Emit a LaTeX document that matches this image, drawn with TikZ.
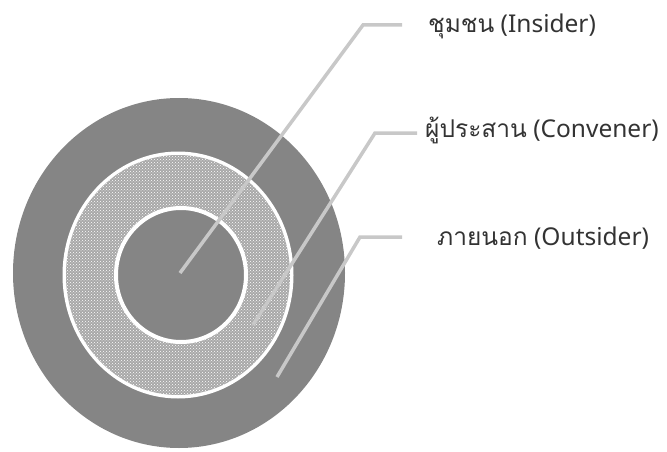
\documentclass[tikz,border=0pt]{standalone}
\usepackage{fontspec}
\setmainfont{Noto Sans}
\newfontfamily\thaifont[Script=Thai]{Loma}
\usetikzlibrary{patterns}

\definecolor{ringgray}{RGB}{133,133,133}
\definecolor{dotgray}{RGB}{168,168,168}
\definecolor{leadgray}{RGB}{200,200,200}

\begin{document}
\begin{tikzpicture}[x=1pt, y=-1pt,
    leader/.style={draw=leadgray, line width=3.5pt},
    label/.style={anchor=base west, inner sep=0pt, text=black!80, font=\fontsize{24.5}{29}\selectfont}
]
    \useasboundingbox (0,0) rectangle (667,452);

    % Rings
    \fill[ringgray] (179,273) ellipse [x radius=166, y radius=175];
    \fill[white] (178,275) ellipse [x radius=115.5, y radius=123.5];
    \fill[dotgray] (178,275) ellipse [x radius=112, y radius=120];
    \fill[pattern=crosshatch dots, pattern color=white]
        (178,275) ellipse [x radius=112, y radius=120];
    \filldraw[fill=ringgray, draw=white, line width=4pt]
        (181,275) ellipse [x radius=65, y radius=67];

    % Labels
    \node[label] (ins) at (428,33) {{\thaifont ชุมชน} (Insider)};
    \node[label] (con) at (425,137) {{\thaifont ผู้ประสาน} (Convener)};
    \node[label] (out) at (437,245) {{\thaifont ภายนอก} (Outsider)};

    % Leader points
    \coordinate (ptIns) at (180,273);
    \coordinate (ptCon) at (253,325);
    \coordinate (ptOut) at (277,377);
    \coordinate (bendIns) at (363,25);
    \coordinate (bendCon) at (375,133);
    \coordinate (bendOut) at (360,237);
    \coordinate (endIns) at (402,25);
    \coordinate (endCon) at (417,133);
    \coordinate (endOut) at (402,237);

    \draw[leader] (ptIns) -- (bendIns) -- (endIns);
    \draw[leader] (ptCon) -- (bendCon) -- (endCon);
    \draw[leader] (ptOut) -- (bendOut) -- (endOut);
\end{tikzpicture}
\end{document}
